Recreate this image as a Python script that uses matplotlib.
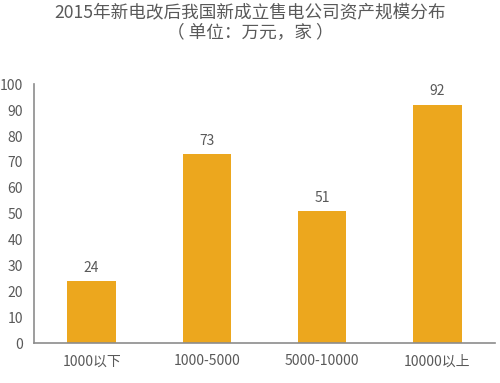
import matplotlib
matplotlib.use('Agg')
import matplotlib.pyplot as plt

plt.rcParams['font.family'] = ['Noto Sans CJK SC', 'DejaVu Sans']

categories = ['1000以下', '1000-5000', '5000-10000', '10000以上']
values = [24, 73, 51, 92]
y_ticks = list(range(0, 101, 10))

bar_color = '#ECA71E'
text_color = '#595959'
axis_color = '#8C8C8C'

fig = plt.figure(figsize=(5, 3.83), dpi=100)
ax = fig.add_axes([0.068, 0.104, 0.922, 0.676])

x = range(len(categories))
bars = ax.bar(x, values, width=0.42, color=bar_color)
for xi, v in zip(x, values):
    ax.text(xi, v + 2.5, str(v), ha='center', va='bottom', fontsize=10, color=text_color)

ax.set_xlim(-0.5, 3.5)
ax.set_ylim(0, 100)
ax.set_yticks(y_ticks)
ax.set_xticks(list(x))
ax.set_xticklabels(categories)
ax.tick_params(axis='both', length=0, labelsize=10, colors=text_color)
ax.tick_params(axis='y', pad=8)
ax.tick_params(axis='x', pad=8)
# small tick mark at zero only
ax.set_yticks([0], minor=True)
ax.tick_params(axis='y', which='minor', length=4, width=1.2, color=axis_color)

for side in ['top', 'right']:
    ax.spines[side].set_visible(False)
for side in ['left', 'bottom']:
    ax.spines[side].set_color(axis_color)
    ax.spines[side].set_linewidth(1.2)

fig.text(0.5, 0.968, '2015年新电改后我国新成立售电公司资产规模分布', ha='center', va='center',
         fontsize=12.7, color=text_color)
fig.text(0.5, 0.913, '（ 单位：万元，家 ）', ha='center', va='center', fontsize=12.7, color=text_color)

fig.savefig('out.png', dpi=100)
